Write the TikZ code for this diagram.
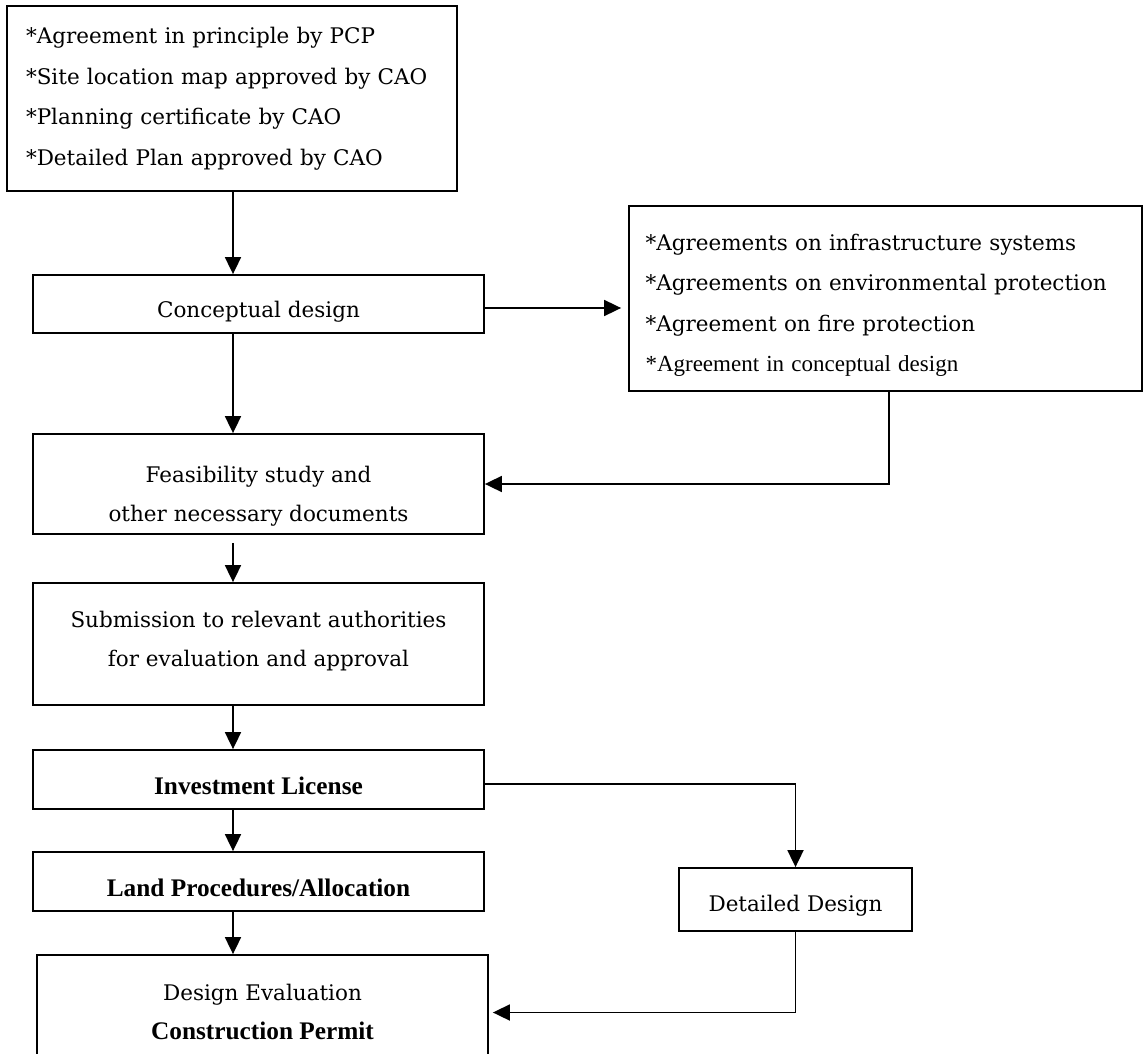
\documentclass[tikz,border=0pt]{standalone}
\usepackage{fontspec}
\setmainfont{DejaVu Serif}
\newfontfamily\tms{Liberation Serif}
\usetikzlibrary{arrows.meta}

% text sizes used in the chart
\newcommand\bodyfont{\fontsize{21.5}{40.5}\selectfont}
\newcommand\pairfont{\fontsize{21.5}{39}\selectfont}
\newcommand\tmsfont{\tms\fontsize{23}{\baselineskip}\selectfont}
\newcommand\tmsbold{\tms\bfseries\fontsize{25.3}{\baselineskip}\selectfont}
% invisible strut: height #1, depth #2 (sets where the lines sit in a box)
\newcommand\vstrut[2]{\rule[-#2pt]{0pt}{\dimexpr#1pt+#2pt\relax}}

\tikzset{
  box/.style={draw, line width=1.8pt, inner sep=0pt, align=center,
              font=\bodyfont},
  flow/.style={line width=1.8pt, -{Triangle[length=17pt,width=16pt]}},
}

\begin{document}
\begin{tikzpicture}[x=1pt, y=-1pt]
\useasboundingbox (0,0) rectangle (1143,1054);
\clip (0,0) rectangle (1143,1054);

% approvals needed before design
\node[box, minimum width=450pt, minimum height=185pt, text width=412pt, align=left]
  (pre) at (232,98.5)
  {\vstrut{20.5}{0}*Agreement in principle by PCP\\
   {*}Site location map approved by CAO\\
   {*}Planning certificate by CAO\\
   {*}Detailed Plan approved by CAO\vstrut{0}{8}};

% main column
\node[box, minimum width=451pt, minimum height=58pt] (concept) at (258.5,304)
  {\vstrut{34}{8}Conceptual design};
\node[box, minimum width=451pt, minimum height=100pt, font=\pairfont] (feas) at (258.5,484)
  {\vstrut{43}{0}Feasibility study and\\ other necessary documents\vstrut{0}{8}};
\node[box, minimum width=451pt, minimum height=122pt, font=\pairfont] (submit) at (258.5,644)
  {\vstrut{19}{0}Submission to relevant authorities\\ for evaluation and approval\vstrut{0}{14}};
\node[box, minimum width=451pt, minimum height=59pt, font=\tmsbold] (license) at (258.5,779.5)
  {\vstrut{37}{8}Investment License};
\node[box, minimum width=451pt, minimum height=59pt, font=\tmsbold] (land) at (258.5,881.5)
  {\vstrut{37}{8}Land Procedures/Allocation};
\node[box, minimum width=451pt, minimum height=115pt, font=\pairfont] (permit) at (262.5,1012.5)
  {\vstrut{22}{0}Design Evaluation\\ {\tmsbold Construction Permit}\vstrut{0}{8}};

% side column
\node[box, minimum width=513pt, minimum height=185pt, text width=480pt, align=left]
  (agree) at (885.5,298.5)
  {\vstrut{32.5}{0}*Agreements on infrastructure systems\\
   {*}Agreements on environmental protection\\
   {*}Agreement on fire protection\\
   {\tmsfont *Agreement in conceptual design}\vstrut{0}{8}};
\node[box, minimum width=233pt, minimum height=63pt] (detail) at (795.5,899.5)
  {\vstrut{31}{8}Detailed Design};

% vertical line of the main flow and drop from the side box
\coordinate (spine) at (233,0);
\coordinate (drop) at (889,0);

\draw[flow] (pre.south -| spine) -- (concept.north -| spine);
\draw[flow] (concept.south -| spine) -- (feas.north -| spine);
\draw[flow, shorten <=8pt] (feas.south -| spine) -- (submit.north -| spine);
\draw[flow] (submit.south -| spine) -- (license.north -| spine);
\draw[flow] (license.south -| spine) -- (land.north -| spine);
\draw[flow] (land.south -| spine) -- (permit.north -| spine);

\draw[flow, shorten >=7pt] ([yshift=-4pt]concept.east) -- ([yshift=-4pt]concept.east -| agree.west);
\draw[flow] (agree.south -| drop) |- (feas.east);
\draw[flow] ([yshift=-4.5pt]license.east) -| (detail.north);
\draw[flow, shorten >=4pt] (detail.south) |- (permit.east);
\end{tikzpicture}
\end{document}
